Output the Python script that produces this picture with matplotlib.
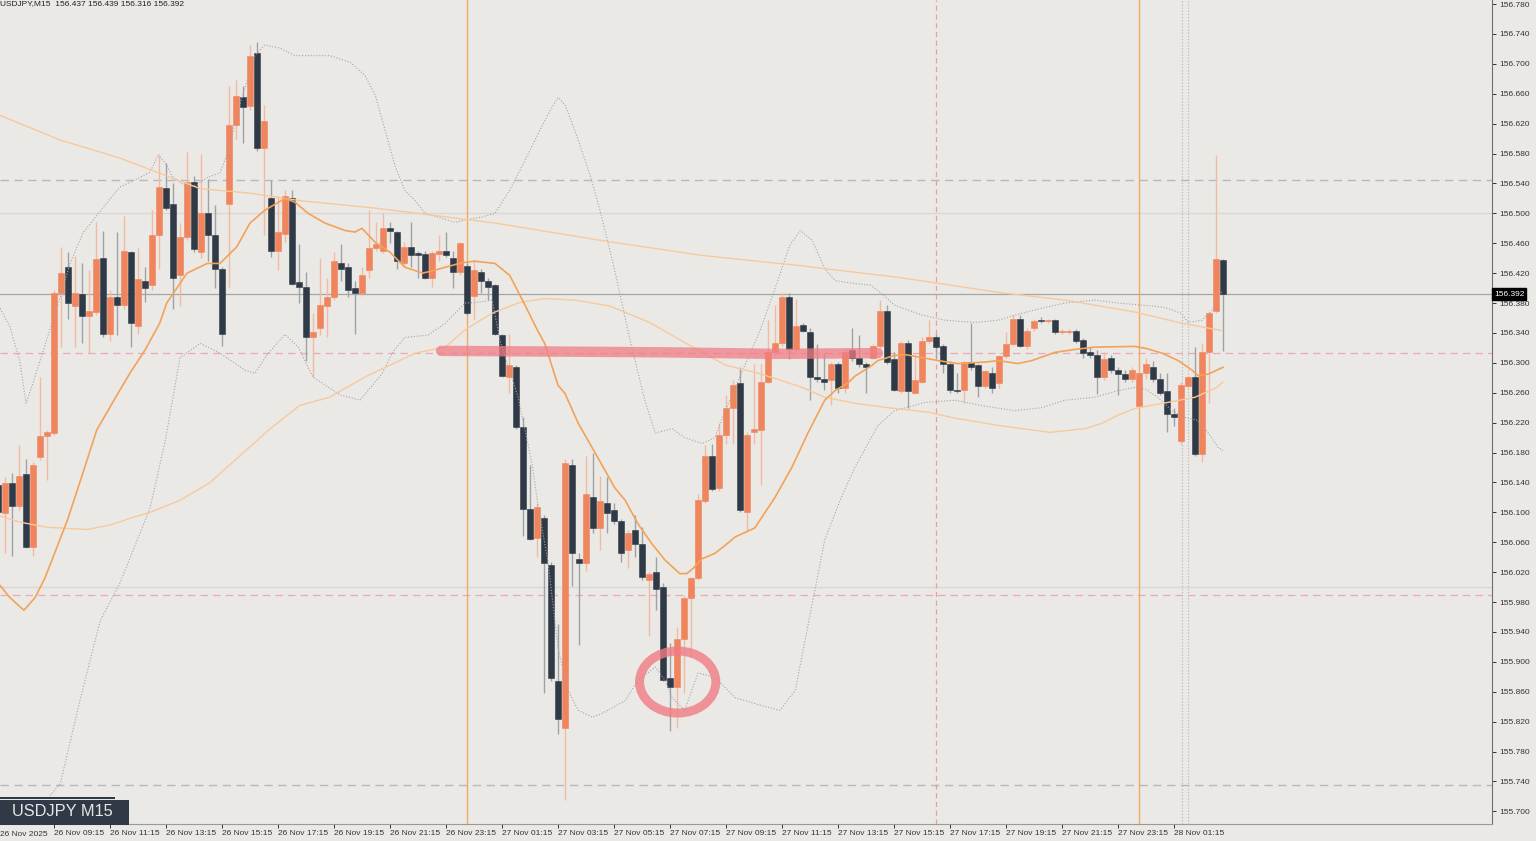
import numpy as np
import matplotlib
matplotlib.use("Agg")
import matplotlib.pyplot as plt
from matplotlib.patches import Ellipse, Rectangle

# ---------------- data ----------------
symbol_title = "USDJPY,M15  156.437 156.439 156.316 156.392"
symbol_badge = "USDJPY M15"
first_bar = -1
opens = [156.137, 156.099, 156.139, 156.108, 156.151, 156.053, 156.174, 156.202, 156.206, 156.393,
         156.428, 156.376, 156.392, 156.362, 156.368, 156.440, 156.338, 156.388, 156.378, 156.448,
         156.349, 156.409, 156.404, 156.471, 156.534, 156.512, 156.418, 156.468, 156.542, 156.448,
         156.501, 156.471, 156.425, 156.513, 156.618, 156.655, 156.643, 156.714, 156.588, 156.520,
         156.450, 156.473, 156.521, 156.408, 156.402, 156.334, 156.346, 156.376, 156.388, 156.434,
         156.428, 156.400, 156.393, 156.424, 156.453, 156.449, 156.480, 156.475, 156.433, 156.455,
         156.447, 156.445, 156.414, 156.445, 156.450, 156.440, 156.421, 156.430, 156.390, 156.422,
         156.410, 156.404, 156.337, 156.281, 156.294, 156.214, 156.105, 156.065, 156.093, 156.030,
         155.875, 155.812, 156.163, 156.037, 156.032, 156.120, 156.079, 156.112, 156.103, 156.088,
         156.049, 156.076, 156.057, 156.010, 156.020, 156.000, 155.879, 155.866, 155.931, 155.985,
         156.012, 156.115, 156.176, 156.132, 156.203, 156.240, 156.273, 156.100, 156.208, 156.210,
         156.275, 156.314, 156.326, 156.388, 156.319, 156.350, 156.341, 156.281, 156.278, 156.277,
         156.298, 156.267, 156.317, 156.306, 156.298, 156.307, 156.322, 156.370, 156.305, 156.262,
         156.326, 156.260, 156.275, 156.329, 156.335, 156.322, 156.299, 156.263, 156.263, 156.301,
         156.297, 156.269, 156.287, 156.273, 156.309, 156.325, 156.359, 156.323, 156.347, 156.357,
         156.356, 156.357, 156.341, 156.341, 156.343, 156.330, 156.314, 156.310, 156.281, 156.307,
         156.291, 156.285, 156.278, 156.242, 156.287, 156.295, 156.278, 156.262, 156.231, 156.195,
         156.269, 156.281, 156.178, 156.315, 156.369, 156.437]
highs = [156.149, 156.147, 156.152, 156.190, 156.172, 156.167, 156.281, 156.210, 156.397, 156.455,
         156.448, 156.443, 156.433, 156.424, 156.488, 156.477, 156.397, 156.475, 156.497, 156.450,
         156.453, 156.428, 156.504, 156.578, 156.568, 156.540, 156.487, 156.582, 156.550, 156.579,
         156.546, 156.511, 156.428, 156.670, 156.678, 156.671, 156.725, 156.729, 156.645, 156.544,
         156.523, 156.531, 156.531, 156.459, 156.421, 156.366, 156.440, 156.413, 156.448, 156.459,
         156.433, 156.410, 156.428, 156.504, 156.488, 156.500, 156.489, 156.477, 156.461, 156.488,
         156.450, 156.450, 156.449, 156.471, 156.475, 156.450, 156.461, 156.433, 156.437, 156.425,
         156.413, 156.406, 156.339, 156.338, 156.297, 156.228, 156.163, 156.112, 156.096, 156.033,
         155.950, 156.172, 156.172, 156.045, 156.175, 156.179, 156.149, 156.147, 156.112, 156.091,
         156.076, 156.096, 156.081, 156.020, 156.040, 156.006, 155.925, 155.946, 155.989, 156.014,
         156.125, 156.190, 156.191, 156.219, 156.257, 156.277, 156.294, 156.207, 156.299, 156.299,
         156.357, 156.377, 156.393, 156.394, 156.386, 156.353, 156.347, 156.325, 156.313, 156.301,
         156.301, 156.318, 156.346, 156.337, 156.301, 156.325, 156.384, 156.377, 156.314, 156.329,
         156.330, 156.310, 156.334, 156.357, 156.339, 156.325, 156.303, 156.286, 156.303, 156.353,
         156.299, 156.291, 156.294, 156.311, 156.341, 156.364, 156.364, 156.346, 156.358, 156.361,
         156.358, 156.359, 156.345, 156.345, 156.345, 156.333, 156.321, 156.317, 156.314, 156.310,
         156.294, 156.291, 156.294, 156.289, 156.307, 156.302, 156.286, 156.286, 156.240, 156.274,
         156.283, 156.321, 156.326, 156.368, 156.578, 156.439]
lows = [156.049, 156.046, 156.042, 156.103, 156.052, 156.042, 156.170, 156.143, 156.203, 156.321,
        156.359, 156.321, 156.326, 156.313, 156.364, 156.334, 156.329, 156.337, 156.372, 156.321,
        156.338, 156.381, 156.397, 156.426, 156.504, 156.372, 156.376, 156.464, 156.448, 156.440,
        156.436, 156.400, 156.323, 156.401, 156.600, 156.594, 156.638, 156.584, 156.471, 156.441,
        156.424, 156.461, 156.404, 156.380, 156.303, 156.281, 156.337, 156.334, 156.384, 156.409,
        156.388, 156.339, 156.389, 156.414, 156.450, 156.447, 156.460, 156.426, 156.430, 156.428,
        156.414, 156.412, 156.401, 156.436, 156.441, 156.400, 156.418, 156.364, 156.359, 156.393,
        156.384, 156.337, 156.281, 156.259, 156.211, 156.069, 156.063, 156.040, 155.858, 155.875,
        155.803, 155.715, 156.002, 155.922, 156.022, 156.073, 156.049, 156.073, 156.085, 156.033,
        156.025, 156.040, 156.010, 155.935, 155.970, 155.874, 155.808, 155.811, 155.858, 155.906,
        156.009, 156.112, 156.128, 156.129, 156.192, 156.192, 156.100, 156.075, 156.192, 156.136,
        156.273, 156.311, 156.323, 156.305, 156.315, 156.341, 156.250, 156.275, 156.263, 156.244,
        156.259, 156.259, 156.303, 156.295, 156.259, 156.305, 156.319, 156.298, 156.262, 156.259,
        156.239, 156.258, 156.273, 156.326, 156.307, 156.286, 156.259, 156.259, 156.246, 156.291,
        156.254, 156.266, 156.259, 156.266, 156.306, 156.322, 156.321, 156.318, 156.342, 156.353,
        156.353, 156.339, 156.339, 156.339, 156.326, 156.306, 156.307, 156.258, 156.277, 156.286,
        156.257, 156.274, 156.275, 156.239, 156.278, 156.275, 156.257, 156.207, 156.215, 156.192,
        156.266, 156.175, 156.167, 156.246, 156.366, 156.316]
closes = [156.100, 156.139, 156.108, 156.149, 156.053, 156.163, 156.202, 156.207, 156.394, 156.420,
          156.380, 156.393, 156.362, 156.369, 156.439, 156.338, 156.388, 156.377, 156.450, 156.353,
          156.412, 156.400, 156.471, 156.535, 156.507, 156.414, 156.468, 156.542, 156.452, 156.500,
          156.471, 156.425, 156.338, 156.618, 156.657, 156.642, 156.711, 156.588, 156.624, 156.450,
          156.475, 156.523, 156.406, 156.401, 156.334, 156.341, 156.377, 156.388, 156.436, 156.426,
          156.398, 156.394, 156.418, 156.453, 156.459, 156.480, 156.476, 156.436, 156.455, 156.444,
          156.444, 156.414, 156.447, 156.450, 156.444, 156.422, 156.460, 156.366, 156.424, 156.410,
          156.401, 156.339, 156.283, 156.297, 156.214, 156.105, 156.064, 156.107, 156.032, 155.878,
          155.824, 156.166, 156.046, 156.032, 156.124, 156.079, 156.115, 156.099, 156.089, 156.046,
          156.073, 156.058, 156.013, 156.018, 155.998, 155.876, 155.866, 155.931, 155.986, 156.012,
          156.117, 156.176, 156.131, 156.203, 156.239, 156.271, 156.103, 156.204, 156.211, 156.275,
          156.314, 156.327, 156.388, 156.319, 156.349, 156.343, 156.281, 156.279, 156.275, 156.298,
          156.267, 156.315, 156.306, 156.298, 156.294, 156.322, 156.369, 156.301, 156.264, 156.326,
          156.262, 156.277, 156.329, 156.335, 156.321, 156.299, 156.263, 156.262, 156.301, 156.294,
          156.269, 156.289, 156.267, 156.309, 156.325, 156.359, 156.323, 156.343, 156.356, 156.356,
          156.357, 156.341, 156.343, 156.343, 156.329, 156.313, 156.311, 156.281, 156.305, 156.290,
          156.285, 156.278, 156.290, 156.286, 156.298, 156.278, 156.259, 156.232, 156.228, 156.271,
          156.281, 156.178, 156.315, 156.366, 156.439, 156.392]

# moving average (middle band), read at bar positions
ma_mid_bar = [-0.7, 0.7, 2.7, 4.3, 5.7, 6.7, 8.9, 11, 13.1, 16, 17.9, 20, 22.1, 23.1, 26, 28.9, 30.7,
              33.1, 35, 37.1, 40, 41.4, 43.3, 45.7, 48.6, 50, 51, 52.9, 55, 57.1, 59.7, 61.4, 65.3,
              67.1, 70, 72.1, 74.3, 76.1, 77.1, 79, 80, 81.9, 84.7, 87.1, 88.6, 90.4, 92.4, 94.3,
              96.4, 97.4, 98.3, 99.6, 101.4, 102.9, 104.3, 107.1, 110, 112.4, 114.7, 117.1, 118.6,
              120.4, 121.4, 123.9, 124.7, 127.1, 128.6, 131, 133.3, 136.1, 140, 141.9, 144.7, 146.7,
              150, 152.9, 155.7, 161.4, 163.1, 165.3, 167.6, 169.6, 170.4, 171.9, 174]
ma_mid_val = [156.002, 155.986, 155.969, 155.986, 156.012, 156.036, 156.089, 156.149, 156.210, 156.257,
              156.287, 156.317, 156.353, 156.380, 156.420, 156.433, 156.433, 156.455, 156.487, 156.504,
              156.520, 156.515, 156.500, 156.487, 156.477, 156.475, 156.480, 156.461, 156.448, 156.428,
              156.420, 156.424, 156.434, 156.436, 156.433, 156.417, 156.377, 156.343, 156.326, 156.270,
              156.259, 156.219, 156.173, 156.133, 156.116, 156.085, 156.058, 156.036, 156.018, 156.018,
              156.025, 156.038, 156.045, 156.056, 156.067, 156.079, 156.120, 156.160, 156.206, 156.250,
              156.263, 156.273, 156.282, 156.297, 156.303, 156.310, 156.311, 156.307, 156.303, 156.299,
              156.301, 156.303, 156.299, 156.303, 156.314, 156.318, 156.321, 156.322, 156.319, 156.313,
              156.303, 156.290, 156.283, 156.285, 156.294]

ma_slow_bar = [-0.7, 7.9, 16.4, 27.9, 35, 42.1, 52.9, 70, 85, 99.3, 113.6, 127.9, 142.1, 151.4,
               161.4, 168.1, 173.9]
ma_slow_val = [156.631, 156.598, 156.574, 156.533, 156.527, 156.517, 156.507, 156.487, 156.464,
               156.444, 156.430, 156.414, 156.394, 156.384, 156.368, 156.353, 156.343]

ma_medium_bar = [-0.7, 2.1, 6, 11.7, 15, 17.9, 20.7, 25, 29.3, 33.6, 37.9, 42.1, 46.4, 51.4, 58.6,
                 62.9, 65.7, 68.6, 70, 73.6, 77.1, 81.4, 86.4, 92.1, 97.9, 102.9, 107.6, 110.4,
                 113.9, 117.1, 121.4, 126.1, 131.9, 135.7, 142.1, 149.3, 154.3, 156.7, 159, 161.4,
                 166.1, 170, 172.9, 174]
ma_medium_val = [156.095, 156.087, 156.080, 156.077, 156.083, 156.092, 156.100, 156.116, 156.140,
                 156.176, 156.212, 156.243, 156.254, 156.281, 156.313, 156.321, 156.344, 156.361,
                 156.368, 156.381, 156.386, 156.384, 156.376, 156.354, 156.323, 156.297, 156.286,
                 156.278, 156.267, 156.254, 156.246, 156.240, 156.234, 156.226, 156.216, 156.207,
                 156.212, 156.219, 156.230, 156.239, 156.247, 156.254, 156.266, 156.274]

bb_upper_bar = [-0.7, 0.7, 2.1, 3, 4, 6.4, 7.9, 9.3, 11.1, 12.6, 14.3, 16.4, 19.3, 20.7, 21.9, 22.9,
                24, 26, 27.4, 28.9, 30.7, 32.1, 32.9, 33.6, 34.6, 35.7, 37.1, 39.3, 41.4, 46.4, 49.3,
                51.4, 52.9, 54.3, 55.7, 57.1, 58.6, 60, 64.3, 65.7, 68.1, 70, 72.1, 74.3, 76.4, 77.9,
                79, 80, 81.4, 83.6, 85, 87.1, 89.3, 91.4, 92.9, 95.3, 97.1, 99.6, 101.4, 102.9, 104.3,
                107.9, 110.4, 112.1, 113.6, 115.3, 117.1, 118.6, 121.4, 123.6, 124.7, 127.1, 131,
                134.3, 138.6, 141.9, 144.3, 148.1, 151.4, 155.7, 159, 163.9, 165.7, 168.1, 169, 171,
                172.4, 173.9]
bb_upper_val = [156.373, 156.348, 156.303, 156.246, 156.273, 156.344, 156.388, 156.433, 156.473,
                156.491, 156.511, 156.535, 156.548, 156.555, 156.578, 156.567, 156.548, 156.535,
                156.538, 156.548, 156.554, 156.588, 156.624, 156.647, 156.678, 156.711, 156.725,
                156.721, 156.711, 156.711, 156.702, 156.685, 156.658, 156.611, 156.564, 156.531,
                156.517, 156.500, 156.488, 156.491, 156.495, 156.500, 156.531, 156.571, 156.611,
                156.638, 156.655, 156.645, 156.611, 156.551, 156.504, 156.424, 156.330, 156.250,
                156.206, 156.212, 156.200, 156.192, 156.200, 156.236, 156.267, 156.344, 156.410,
                156.457, 156.477, 156.464, 156.426, 156.410, 156.406, 156.404, 156.397, 156.377,
                156.364, 156.357, 156.354, 156.357, 156.364, 156.373, 156.380, 156.384, 156.380,
                156.376, 156.374, 156.366, 156.354, 156.357, 156.370, 156.397]

bb_lower_bar = [6.4, 7.9, 10.7, 13.6, 16.4, 20.7, 22.9, 25, 27.9, 30.7, 34.3, 35.7, 37.6, 40, 41.9,
                43.3, 44, 47.9, 50.7, 53.9, 55.3, 57.1, 60.4, 62.9, 64.7, 65.7, 67.6, 69.6, 70.7,
                73.3, 75.3, 76.1, 77.6, 79, 80.4, 81.9, 83.9, 85.3, 88.6, 90.4, 92.9, 94.3, 95.3,
                97.1, 99, 100.4, 101.9, 104.3, 107.9, 110.7, 112.9, 114.3, 115.7, 117.1, 119.3,
                121.4, 124.7, 127.1, 131.4, 135.7, 140, 144.3, 148.1, 151.4, 155.7, 159, 161.4,
                162.9, 164.7, 166.7, 168.6, 170.4, 171.9, 173.3, 174]
bb_lower_val = [155.721, 155.737, 155.848, 155.955, 156.005, 156.105, 156.196, 156.307, 156.326,
                156.313, 156.290, 156.286, 156.313, 156.338, 156.321, 156.294, 156.281, 156.257,
                156.250, 156.286, 156.313, 156.334, 156.337, 156.353, 156.370, 156.380, 156.381,
                156.384, 156.330, 156.254, 156.165, 156.112, 156.032, 155.919, 155.862, 155.835,
                155.826, 155.831, 155.848, 155.875, 155.893, 155.875, 155.852, 155.835, 155.885,
                155.882, 155.875, 155.852, 155.842, 155.835, 155.862, 155.929, 155.996, 156.063,
                156.116, 156.160, 156.216, 156.236, 156.247, 156.250, 156.242, 156.236, 156.240,
                156.250, 156.254, 156.263, 156.267, 156.265, 156.254, 156.236, 156.227, 156.223,
                156.206, 156.187, 156.183]

# horizontal levels
level_dash_grey = [156.544, 155.735]
level_light = [156.500, 156.000]
level_dash_pink = [156.313, 155.990]
bid_price = 156.392
# vertical markers (bar positions)
vline_orange = [66, 162]
vline_pink = [133]
vline_dotted = [168.1, 169]

# hand-drawn annotations
highlight_bar = [62.3, 80, 95, 110, 124.7]
highlight_val = [156.316, 156.315, 156.314, 156.312, 156.313]
circle_center = (96.1, 155.873)
circle_size = (10.9, 0.083)

price_ticks = [round(155.70 + 0.04 * i, 3) for i in range(28)]
time_label_bars = list(range(7, 168, 8))
time_labels = ["26 Nov 09:15", "26 Nov 11:15", "26 Nov 13:15", "26 Nov 15:15", "26 Nov 17:15",
               "26 Nov 19:15", "26 Nov 21:15", "26 Nov 23:15", "27 Nov 01:15", "27 Nov 03:15",
               "27 Nov 05:15", "27 Nov 07:15", "27 Nov 09:15", "27 Nov 11:15", "27 Nov 13:15",
               "27 Nov 15:15", "27 Nov 17:15", "27 Nov 19:15", "27 Nov 21:15", "27 Nov 23:15",
               "28 Nov 01:15"]
first_date_label = "26 Nov 2025"

# ---------------- style ----------------
BG = "#EBE9E5"
DARK = "#2F3A46"
ORANGE = "#F0845C"
WICK_DARK = "#9EA2A6"
WICK_OR = "#F2B9A3"
plt.rcParams['font.family'] = ['Liberation Sans', 'DejaVu Sans']

W, H = 1536, 841
fig = plt.figure(figsize=(W / 100, H / 100), dpi=100, facecolor=BG)
ax_left, ax_bottom, ax_w, ax_h = 0, 17, 1492, 824
ax = fig.add_axes([ax_left / W, ax_bottom / H, ax_w / W, ax_h / H], facecolor=BG)

px = 7.0  # pixels per bar
x0 = (0 - 5) / px
ax.set_xlim(x0, x0 + ax_w / px)
ymax = 156.7854
ax.set_ylim(ymax - ax_h * 0.0013378, ymax)

# horizontal levels
for v in level_dash_grey:
    ax.axhline(v, color="#B4B8C4", lw=1.0, ls=(0, (6, 4)), zorder=1)
for v in level_light:
    ax.axhline(v, color="#DAD8D4", lw=1.0, zorder=1)
for v in level_dash_pink:
    ax.axhline(v, color="#EAA8B8", lw=0.9, ls=(0, (6, 4)), zorder=1)
ax.axhline(bid_price, color="#A6A6A6", lw=0.9, zorder=1)

# vertical markers
for v in vline_orange:
    ax.axvline(v, color="#F5A04C", lw=1.0, alpha=0.85, zorder=1)
for v in vline_pink:
    ax.axvline(v, color="#EE9C9C", lw=0.9, ls=(0, (4, 3)), zorder=1)
for v in vline_dotted:
    ax.axvline(v, color="#B9BBC0", lw=0.9, ls=(0, (1, 1.5)), zorder=1)

# candles
bars = np.arange(first_bar, first_bar + len(opens))
o = np.array(opens); h = np.array(highs); l = np.array(lows); c = np.array(closes)
up = c >= o
wick_cols = np.where(up, WICK_OR, WICK_DARK)
ax.vlines(bars, l, h, colors=wick_cols, lw=1.0, zorder=2)
body_bottom = np.minimum(o, c)
body_h = np.maximum(np.abs(c - o), 0.0012)
body_cols = np.where(up, ORANGE, DARK)
ax.bar(bars, body_h, bottom=body_bottom, width=0.72, color=body_cols,
       edgecolor=body_cols, linewidth=0.4, zorder=3)

# indicators
ax.plot(bb_upper_bar, bb_upper_val, color="#A4A4AE", lw=0.8, ls=(0, (1, 1.6)), zorder=4)
ax.plot(bb_lower_bar, bb_lower_val, color="#A4A4AE", lw=0.8, ls=(0, (1, 1.6)), zorder=4)
ax.plot(ma_slow_bar, ma_slow_val, color="#F7C99C", lw=1.0, zorder=4)
ax.plot(ma_medium_bar, ma_medium_val, color="#F7C99C", lw=1.0, zorder=4)
ax.plot(ma_mid_bar, ma_mid_val, color="#F2A25A", lw=1.2, zorder=5)

# hand-drawn annotations
ax.plot(highlight_bar, highlight_val, color="#F07C84", alpha=0.75, lw=7.5,
        solid_capstyle="round", zorder=6)
ax.add_patch(Ellipse(circle_center, circle_size[0], circle_size[1], fill=False,
                     edgecolor="#F07C84", alpha=0.8, lw=6.5, zorder=6))

# axes styling
for s in ["top", "left"]:
    ax.spines[s].set_visible(False)
ax.spines["right"].set_color("#6E6E6E")
ax.spines["bottom"].set_color("#9A9A9A")
ax.spines["right"].set_linewidth(0.8)
ax.spines["bottom"].set_linewidth(0.8)

ax.yaxis.tick_right()
ax.set_yticks(price_ticks)
ax.set_yticklabels([f"{p:.3f}" for p in price_ticks])
ax.tick_params(axis="y", direction="out", length=3, width=0.7, colors="#333333",
               labelsize=6, pad=2)
ax.set_xticks(time_label_bars)
ax.set_xticklabels(time_labels, ha="left")
ax.tick_params(axis="x", direction="out", length=3, width=0.7, colors="#333333",
               labelsize=6, pad=1.5)
for lab in ax.get_xticklabels():
    lab.set_horizontalalignment("left")
ax.text(x0, -7.0 / ax_h, first_date_label, transform=ax.get_xaxis_transform(), ha="left",
        va="top", fontsize=6, color="#333333")

# bid label
ax.text(1.0 + 2 / ax_w, bid_price, f"{bid_price:.3f}", transform=ax.get_yaxis_transform(),
        ha="left", va="center", fontsize=6, color="white", zorder=10,
        bbox=dict(boxstyle="square,pad=0.25", fc="black", ec="black"), clip_on=False)

# title text
fig.text(0.0, (H - 5.5) / H, symbol_title, ha="left", va="baseline", fontsize=6,
         color="#222222")

# badge
fig.patches.append(Rectangle((0, (H - 799) / H), 115 / W, 2.5 / H, transform=fig.transFigure,
                             fc=DARK, ec="none", zorder=8))
fig.patches.append(Rectangle((0, (H - 825) / H), 129 / W, 25 / H, transform=fig.transFigure,
                             fc=DARK, ec="none", zorder=8))
fig.text(12 / W, (H - 812) / H, symbol_badge, ha="left", va="center", fontsize=11.8,
         color="#E6E6E6", zorder=9)

fig.savefig("out.png", dpi=100, facecolor=BG)
